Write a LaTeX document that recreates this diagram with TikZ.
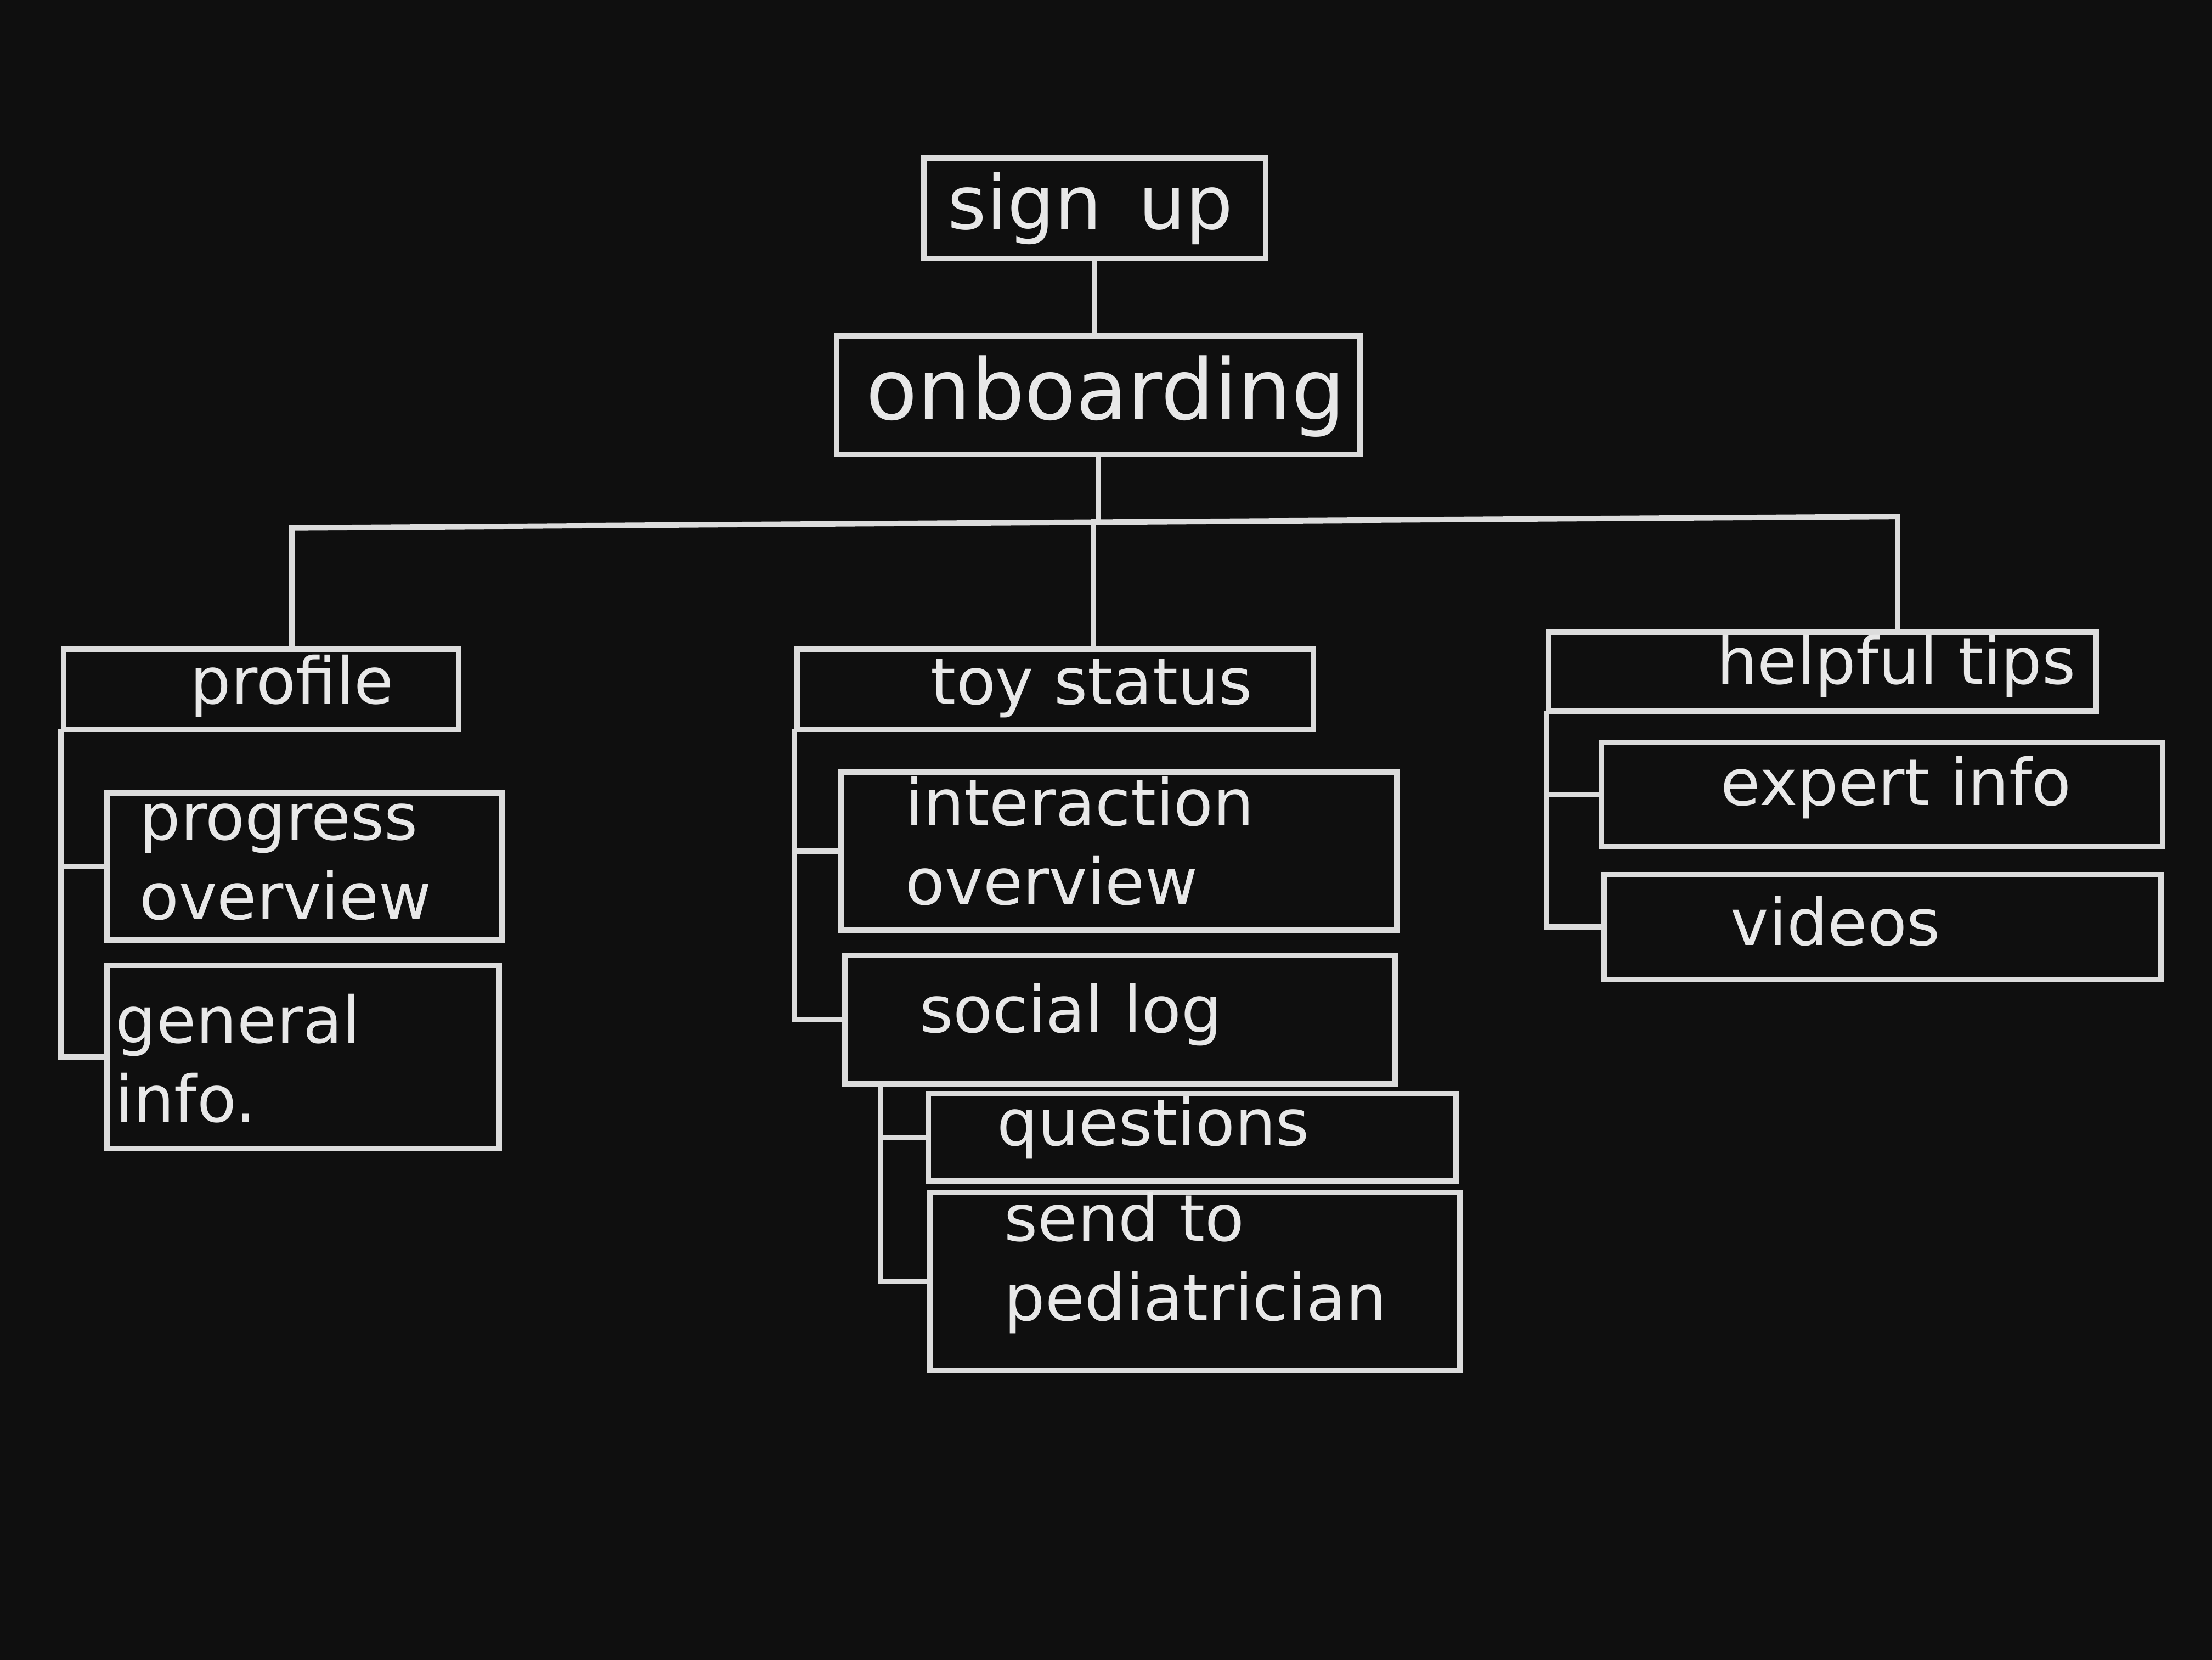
\documentclass[tikz,border=0pt]{standalone}
\usepackage{fontspec}
\setmainfont{DejaVu Sans}
\usepackage{tikz}
\usetikzlibrary{calc, positioning}
\definecolor{boardbg}{HTML}{0F0F0F}
\definecolor{chalk}{HTML}{DCDCDC}
\definecolor{chalktext}{HTML}{E8E8E8}
\newcommand{\SMbloc}[6][]{%
% Dessine le cadre entre les deux coins
\path let \p1=#3, \p2=#4 in
    node[blocbox, #1, minimum width={\x2-\x1}, minimum height={\y1-\y2}] (#2) at ($#3!0.5!#4$) {};
% Texte du cadre, aligne a gauche
\node[lbl, anchor=west] (#2/txt) at #5 {#6};
}

\begin{document}
\begin{tikzpicture}[x=0.1mm, y=-0.1mm, line width=1.1pt,
    blocbox/.style={draw=chalk, rectangle, inner sep=0pt},
    lbl/.style={text=chalktext, align=left, inner sep=0pt, font=\fontsize{13}{16}\selectfont},
    wire/.style={draw=chalk, line cap=rect}]
    \useasboundingbox (0,0) rectangle (1568,1176);
    \fill[boardbg] (-20,-20) rectangle (1588,1196);

    % top of the tree
    \SMbloc[]{signup}{(655,112)}{(897,183)}{(670,148)}{\fontsize{15}{18}\selectfont sign\enspace up}
    \SMbloc[]{onb}{(593,238)}{(964,322)}{(612,281)}{\fontsize{17}{20}\selectfont onboarding}
    \draw[wire] (signup.south) -- (signup.south |- onb.north);

    % bus towards the three sections
    \coordinate (busL) at (207,374);
    \coordinate (busM) at (775,370);
    \coordinate (busR) at (1345,366);
    \draw[wire] (busL) -- (busR);
    \draw[wire] (onb.south) -- (onb.south |- busM);

    % profile
    \SMbloc[]{prof}{(45,460)}{(325,517)}{(133,486)}{profile}
    \SMbloc[]{prog}{(76,562)}{(356,666)}{(97,611)}{progress\\overview}
    \SMbloc[]{gen}{(76,684)}{(354,814)}{(80,750)}{general\\info.}
    \draw[wire] (busL) -- (busL |- prof.north);
    \draw[wire] (prof.south west) -- (prof.south west |- gen.west) -- (gen.west);
    \draw[wire] (prof.south west |- prog.west) -- (prog.west);

    % toy status
    \SMbloc[]{toy}{(565,460)}{(931,517)}{(658,488)}{toy status}
    \SMbloc[]{inter}{(596,547)}{(990,659)}{(640,596)}{interaction\\overview}
    \SMbloc[]{social}{(599,677)}{(989,768)}{(650,719)}{social log}
    \SMbloc[]{quest}{(658,775)}{(1032,837)}{(705,799)}{questions}
    \SMbloc[]{send}{(659,845)}{(1035,971)}{(710,895)}{send to\\pediatrician}
    \draw[wire] (busM) -- (busM |- toy.north);
    \draw[wire] (toy.south west) -- (toy.south west |- social.west) -- (social.west);
    \draw[wire] (toy.south west |- inter.west) -- (inter.west);
    \coordinate (social/foot) at ($(social.south west)+(2.7mm,0)$);
    \draw[wire] (social/foot) -- (social/foot |- send.west) -- (send.west);
    \draw[wire] (social/foot |- quest.west) -- (quest.west);

    % helpful tips
    \SMbloc[]{tips}{(1098,448)}{(1486,504)}{(1215,472)}{helpful tips}
    \SMbloc[]{expert}{(1135,526)}{(1533,600)}{(1218,558)}{expert info}
    \SMbloc[]{vid}{(1137,620)}{(1532,694)}{(1225,653)}{videos}
    \draw[wire] (busR) -- (busR |- tips.north);
    \draw[wire] (tips.south west) -- (tips.south west |- vid.west) -- (vid.west);
    \draw[wire] (tips.south west |- expert.west) -- (expert.west);

\end{tikzpicture}
\end{document}
